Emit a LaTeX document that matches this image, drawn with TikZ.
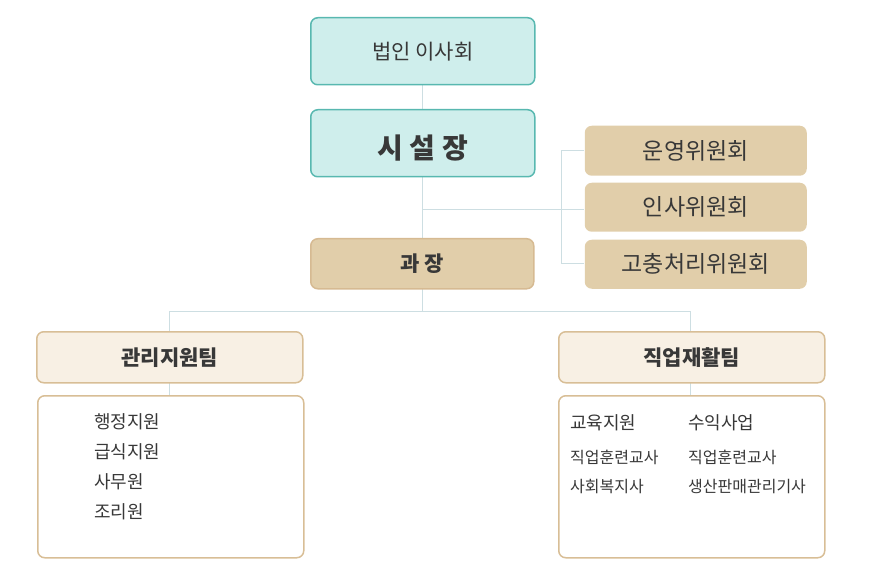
\documentclass[tikz,border=0pt]{standalone}
\usepackage{fontspec}
\setmainfont{Noto Sans CJK KR}
\begin{document}
\begin{tikzpicture}[x=1pt,y=-1pt,
  every node/.style={inner sep=0pt,text=black!78},
  bx/.style={draw,rounded corners=7pt,line width=1.5pt,anchor=north west},
  tealbox/.style={bx,fill={rgb,255:red,207;green,238;blue,236},draw={rgb,255:red,88;green,184;blue,176}},
  tanbox/.style={bx,fill={rgb,255:red,225;green,206;blue,170},draw={rgb,255:red,214;green,186;blue,146}},
  cmtebox/.style={bx,fill={rgb,255:red,225;green,206;blue,170},draw=none},
  teambox/.style={bx,fill={rgb,255:red,248;green,240;blue,228},draw={rgb,255:red,216;green,190;blue,150}},
  contbox/.style={bx,fill=white,draw={rgb,255:red,216;green,190;blue,150}},
  ln/.style={draw={rgb,255:red,205;green,222;blue,226},line width=0.8pt}]
\useasboundingbox (0,0) rectangle (870,580);
\draw[ln] (422,84) -- (422,311);
\draw[ln] (169,311) -- (690,311);
\draw[ln] (169,311) -- (169,395);
\draw[ln] (690,311) -- (690,395);
\draw[ln] (422,209) -- (584,209);
\draw[ln] (584,150) -- (561,150) -- (561,263) -- (584,263);
\node[tealbox,minimum width=224pt,minimum height=67pt] (bd) at (310,17) {};
\node at (bd.center) {\fontsize{21}{21}\selectfont 법인 이사회};
\node[tealbox,minimum width=224pt,minimum height=67pt] (dir) at (310,109) {};
\node at ([yshift=-5pt]dir.center) {\fontsize{28}{28}\selectfont\bfseries 시 설 장};
\node[tanbox,minimum width=223pt,minimum height=50pt] (mgr) at (310,238) {};
\node at (mgr.center) {\fontsize{21}{21}\selectfont\bfseries 과 장};
\node[cmtebox,minimum width=222pt,minimum height=50pt] (c1) at (584,125) {};
\node at (c1.center) {\fontsize{23}{23}\selectfont 운영위원회};
\node[cmtebox,minimum width=222pt,minimum height=49pt] (c2) at (584,182) {};
\node at (c2.center) {\fontsize{23}{23}\selectfont 인사위원회};
\node[cmtebox,minimum width=222pt,minimum height=49pt] (c3) at (584,239) {};
\node at (c3.center) {\fontsize{23}{23}\selectfont 고충처리위원회};
\node[teambox,minimum width=266pt,minimum height=51pt] (t1) at (36,331) {};
\node at (t1.center) {\fontsize{21}{21}\selectfont\bfseries 관리지원팀};
\node[teambox,minimum width=266pt,minimum height=51pt] (t2) at (558,331) {};
\node at (t2.center) {\fontsize{21}{21}\selectfont\bfseries 직업재활팀};
\node[contbox,minimum width=266pt,minimum height=162pt] (b1) at (37,395) {};
\node[contbox,minimum width=266pt,minimum height=162pt] (b2) at (558,395) {};
\begin{scope}[every node/.append style={anchor=west,font=\fontsize{18}{18}\selectfont}]
\node at (94,422) {행정지원};
\node at (94,452) {급식지원};
\node at (94,482) {사무원};
\node at (94,512) {조리원};
\node at (570,423) {교육지원};
\node at (688,423) {수익사업};
\end{scope}
\begin{scope}[every node/.append style={anchor=west,font=\fontsize{16}{16}\selectfont}]
\node at (570,457) {직업훈련교사};
\node at (570,487) {사회복지사};
\node at (688,457) {직업훈련교사};
\node at (688,487) {생산판매관리기사};
\end{scope}
\end{tikzpicture}
\end{document}
